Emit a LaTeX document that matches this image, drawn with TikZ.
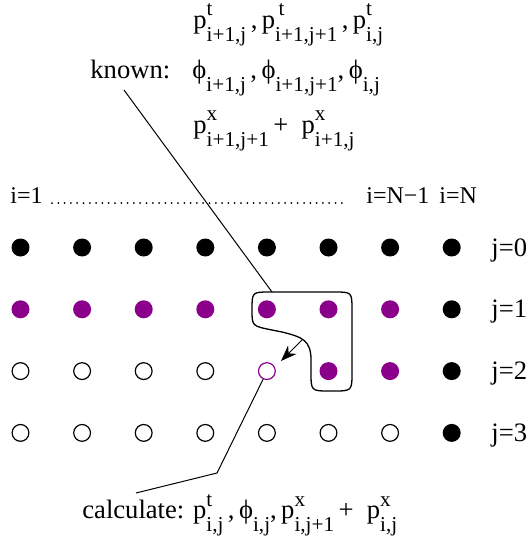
\documentclass[tikz,border=0pt]{standalone}
\usepackage{fontspec}
\setmainfont{Liberation Serif}
\usetikzlibrary{arrows.meta}
\definecolor{lattice}{RGB}{139,0,139}
\newcommand{\xsp}{61.6}   % column spacing (px)
\newcommand{\ysp}{61.8}   % row spacing (px)
\newcommand{\scr}{\fontsize{10.6}{12}\selectfont}
\newcommand{\idx}[3]{#1\rlap{\raisebox{6pt}{\scr #2}}\raisebox{-6.8pt}{\scr #3}}

\begin{document}
\begin{tikzpicture}[x=0.5pt,y=-0.5pt,
  dot/.style={circle,inner sep=0pt,minimum size=9pt,fill=#1},
  dot/.default=black,
  hole/.style={circle,draw=#1,line width=0.6pt,inner sep=0pt,minimum size=8.4pt,fill=white},
  hole/.default=black,
  lbl/.style={anchor=base west,inner sep=0pt,font=\fontsize{13.3}{15}\selectfont},
  ilbl/.style={lbl,font=\fontsize{12}{14}\selectfont}]
  \useasboundingbox (0,0) rectangle (525,557);
  % row j=0
  \foreach \i in {1,...,8}
    \node[dot] (n-\i-0) at ({20.5+\xsp*(\i-1)},247.5) {};
  % row j=1
  \foreach \i in {1,...,7}
    \node[dot=lattice] (n-\i-1) at ({20.5+\xsp*(\i-1)},{247.5+\ysp}) {};
  \node[dot] (n-8-1) at ({20.5+\xsp*7},{247.5+\ysp}) {};
  % row j=2
  \foreach \i in {1,...,4}
    \node[hole] (n-\i-2) at ({20.5+\xsp*(\i-1)},{247.5+2*\ysp}) {};
  \node[hole=lattice] (n-5-2) at ({20.5+\xsp*4},{247.5+2*\ysp}) {};
  \foreach \i in {6,7}
    \node[dot=lattice] (n-\i-2) at ({20.5+\xsp*(\i-1)},{247.5+2*\ysp}) {};
  \node[dot] (n-8-2) at ({20.5+\xsp*7},{247.5+2*\ysp}) {};
  % row j=3
  \foreach \i in {1,...,7}
    \node[hole] (n-\i-3) at ({20.5+\xsp*(\i-1)},{247.5+3*\ysp}) {};
  \node[dot] (n-8-3) at ({20.5+\xsp*7},{247.5+3*\ysp}) {};

  % row and column labels
  \foreach \j in {0,...,3}
    \node[lbl] (j\j) at (491,{256+\ysp*\j}) {j=\j};
  \node[ilbl] (ifirst) at (10,203) {i=1};
  \node[ilbl] (ilast) at (366,203) {i=N−1};
  \node[ilbl] (iend) at (439,203) {i=N};
  \draw[line width=1pt,line cap=round,dash pattern=on 0pt off 3.15pt]
    (52,203) -- (346,203);

  % known values
  \node[lbl] (pt) at (193,28) {\idx{p}{t}{i+1,j}\,,\,\idx{p}{\,t}{i+1,j+1}\,,\,\idx{p}{t}{i,j}};
  \node[lbl] (known) at (90,78) {known:};
  \node[lbl] (phi) at (192,78) {\idx{ϕ}{}{i+1,j}\,,\,\idx{ϕ}{}{i+1,j+1},\,\idx{ϕ}{}{i,j}};
  \node[lbl] (px) at (193,133) {\idx{p}{x}{i+1,j+1}\,+\enspace\idx{p}{x}{i+1,j}};
  % to be calculated
  \node[lbl] (calc) at (82,518) {calculate: \idx{p}{t}{i,j}\,,\,\idx{ϕ}{}{i,j},\,\idx{p}{x}{i,j+1}\,+\enspace\idx{p}{x}{i,j}};

  % stencil
  \draw[line width=0.65pt] (270,292) -- (334,292) .. controls (352,292) .. (352,310)
    -- (352,372) .. controls (352,391) .. (333,391) -- (330,391)
    .. controls (311,391) .. (311,372) -- (311,360)
    .. controls (311,340) and (302,337) .. (282,332) -- (272,330)
    .. controls (252,326) .. (252,310) -- (252,310)
    .. controls (252,292) .. (270,292) -- cycle;
  \coordinate (a0) at (302,340);
  \coordinate (a1) at (281,361);
  \draw[line width=0.5pt,-{Stealth[length=8pt,width=6pt]}] (a0) -- (a1);

  % pointers
  \coordinate (k0) at (124,90);
  \coordinate (k1) at (272,292);
  \draw[line width=0.5pt] (k0) -- (k1);
  \coordinate (c1) at (217,473);
  \coordinate (c0) at (136,493);
  \draw[line width=0.5pt] (n-5-2.245) -- (c1) -- (c0);
\end{tikzpicture}
\end{document}
